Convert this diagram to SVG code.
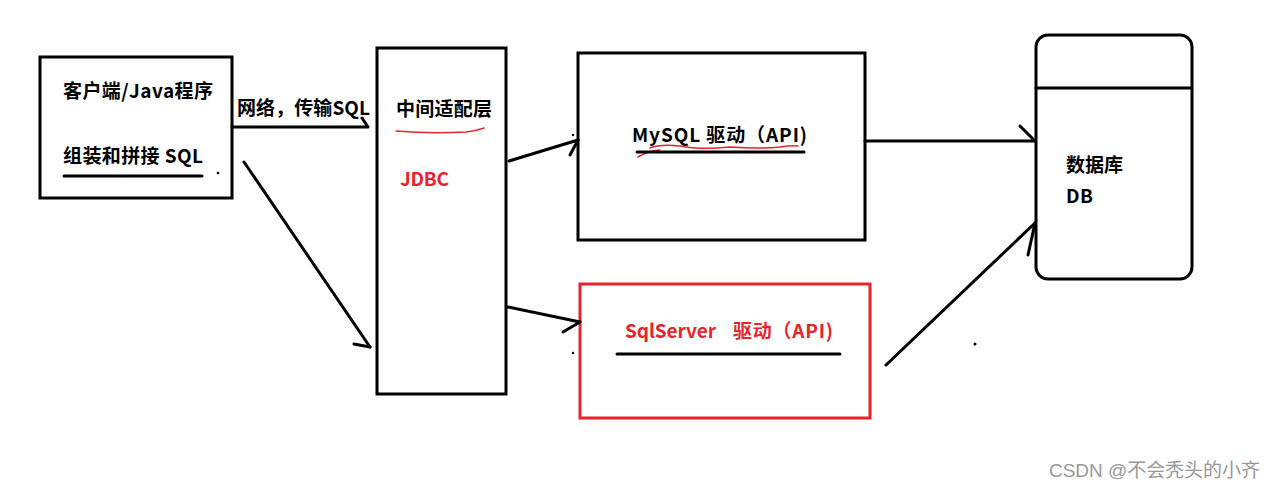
<svg xmlns="http://www.w3.org/2000/svg" width="1274" height="490" viewBox="0 0 1274 490">
<style>
.box{fill:#fff;stroke:#000;stroke-width:3}
.rbox{fill:#fff;stroke:#e8232c;stroke-width:3}
.t{font-family:"Noto Sans CJK SC","Microsoft YaHei",sans-serif;font-weight:bold;font-size:19px;fill:#000}
.r{fill:#e8232c}
.ln{fill:none;stroke:#000;stroke-width:3;stroke-linecap:round;stroke-linejoin:round}
.rl{fill:none;stroke:#e8232c;stroke-width:1.5;stroke-linecap:round}
.wm{font-family:"Liberation Sans","Noto Sans CJK SC",sans-serif;font-size:19px;fill:#999}
</style>
<rect width="1274" height="490" fill="#fff"/>
<g id="client">
<rect class="box" x="40" y="57" width="192" height="141"/>
<text class="t" x="63" y="98" textLength="150" lengthAdjust="spacing">客户端/Java程序</text>
<text class="t" x="63" y="163" textLength="140" lengthAdjust="spacing">组装和拼接 SQL</text>
<line class="ln" x1="64" y1="176" x2="202" y2="176"/>
<circle cx="218" cy="173" r="1.3" fill="#000"/>
</g>
<g id="jdbc">
<rect class="box" x="377" y="48" width="129" height="346"/>
<text class="t" x="396" y="116" textLength="96" lengthAdjust="spacing">中间适配层</text>
<path class="rl" d="M396,131 Q430,134 466,132 Q476,131 484,128"/>
<text class="t r" x="400" y="186" textLength="49" lengthAdjust="spacing">JDBC</text>
</g>
<g id="mysql">
<rect class="box" x="578" y="53" width="287" height="187"/>
<text class="t" x="632" y="142" textLength="175" lengthAdjust="spacing">MySQL 驱动（API)</text>
<path class="rl" d="M638,157 Q650,150 660,150 M650,148 Q660,144 680,146 Q700,150 730,147 Q760,149 780,147 Q792,145 798,146"/>
<line class="ln" x1="637" y1="152" x2="804" y2="152"/>
</g>
<g id="sqlserver">
<rect class="rbox" x="580" y="284" width="290" height="134"/>
<text class="t r" x="625" y="338" textLength="91" lengthAdjust="spacing">SqlServer</text>
<text class="t r" x="733" y="338" textLength="100" lengthAdjust="spacing">驱动（API)</text>
<line class="ln" x1="617" y1="354" x2="840" y2="354"/>
</g>
<g id="db">
<rect class="box" x="1036" y="35" width="156" height="244" rx="12" ry="12"/>
<line class="ln" x1="1036" y1="88" x2="1192" y2="88"/>
<text class="t" x="1066" y="172" textLength="57" lengthAdjust="spacing">数据库</text>
<text class="t" x="1066" y="203" textLength="27" lengthAdjust="spacing">DB</text>
</g>
<g id="connectors">
<text class="t" x="237" y="115" textLength="133" lengthAdjust="spacing">网络，传输SQL</text>
<polyline class="ln" points="232,127 368,127 362,118"/>
<line class="ln" x1="244" y1="162" x2="370" y2="347"/>
<polyline class="ln" points="354,344 370,347"/>
<line class="ln" x1="509" y1="161" x2="578" y2="140"/>
<polyline class="ln" points="570,155 578,140"/>
<circle cx="573" cy="135" r="1.2" fill="#000"/>
<line class="ln" x1="508" y1="307" x2="580" y2="322"/>
<polyline class="ln" points="563,332 580,322"/>
<circle cx="573" cy="353" r="1.2" fill="#000"/>
<line class="ln" x1="865" y1="141" x2="1035" y2="141"/>
<polyline class="ln" points="1020,126 1035,141"/>
<line class="ln" x1="886" y1="365" x2="1035" y2="223"/>
<polyline class="ln" points="1028,255 1035,223"/>
<circle cx="975" cy="344" r="1.5" fill="#000"/>
</g>
<text class="wm" x="1049" y="477" textLength="211" lengthAdjust="spacing">CSDN @不会秃头的小齐</text>
</svg>
